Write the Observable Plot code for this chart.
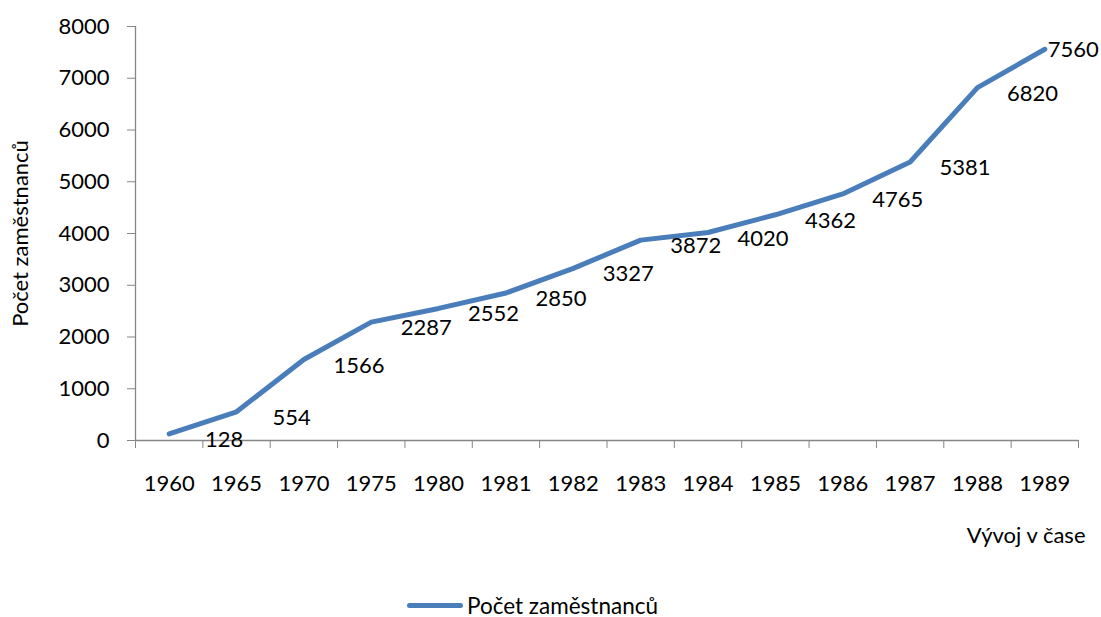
<!DOCTYPE html>
<html>
<head>
<meta charset="utf-8">
<script src="https://cdn.jsdelivr.net/npm/d3@7"></script>
<script src="https://cdn.jsdelivr.net/npm/@observablehq/plot@0.6"></script>
<style>
  html, body { margin: 0; padding: 0; background: #fff; }
  body { width: 1101px; height: 617px; position: relative; font-family: Lato, "Open Sans", sans-serif; overflow: hidden; }
  #legend { position: absolute; top: 592px; left: 407px; display: flex; align-items: center; font-size: 22.5px; color: #000; }
  #legend .sw { width: 56px; height: 5px; background: #4a7ebb; border-radius: 3px; margin-right: 4px; }
</style>
</head>
<body>
<div id="chart"></div>
<div id="legend"><span class="sw"></span><span>Počet zaměstnanců</span></div>
<script>
const years = ["1960","1965","1970","1975","1980","1981","1982","1983","1984","1985","1986","1987","1988","1989"];
const employees = [128, 554, 1566, 2287, 2552, 2850, 3327, 3872, 4020, 4362, 4765, 5381, 6820, 7560];
const yTicks = [0,1000,2000,3000,4000,5000,6000,7000,8000];
const seriesName = "Počet zaměstnanců";
const xTitle = "Vývoj v čase";

const data = years.map((y, i) => ({i, year: y, value: employees[i]}));
const idx = years.map((_, i) => i);
const bounds = d3.range(-0.5, years.length, 1);
const gray = "#868686";
const blue = "#4a7ebb";
const fs = 22;

const chart = Plot.plot({
  width: 1101,
  height: 560,
  marginLeft: 135,
  marginRight: 23,
  marginTop: 26,
  marginBottom: 120,
  style: {fontFamily: "Lato, 'Open Sans', sans-serif", fontSize: fs + "px", color: "#000", background: "#fff"},
  x: {type: "linear", domain: [-0.5, years.length - 0.5]},
  y: {domain: [0, 8000]},
  marks: [
    Plot.axisY(yTicks, {tickSize: 8, tickPadding: 18, stroke: gray, label: null, tickFormat: d => String(d), fill: "#000", fontSize: fs}),
    Plot.ruleX([-0.5], {stroke: gray, strokeWidth: 1.3}),
    Plot.ruleY([0], {stroke: gray, strokeWidth: 1.3}),
    Plot.axisX(bounds, {tickSize: 8, stroke: gray, tickFormat: () => "", label: null}),
    Plot.axisX(idx, {tickSize: 0, tickPadding: 35, tickFormat: i => years[i], label: null, fill: "#000", fontSize: fs}),
    Plot.text([seriesName], {frameAnchor: "left", textAnchor: "middle", dx: -115, rotate: -90, fontSize: fs, fill: "#000"}),
    Plot.text([xTitle], {x: years.length - 0.5, y: 0, textAnchor: "end", dx: 7, dy: 95, fontSize: fs, fill: "#000"}),
    Plot.line(data, {x: "i", y: "value", stroke: blue, strokeWidth: 5, strokeLinecap: "round", strokeLinejoin: "round"}),
    Plot.text(data.slice(0, -1), {x: "i", y: "value", text: d => String(d.value), dx: 55, dy: 6, fontSize: fs, fill: "#000"}),
    Plot.text(data.slice(-1), {x: "i", y: "value", text: d => String(d.value), dx: 3, dy: 1, textAnchor: "start", fontSize: fs, fill: "#000"})
  ]
});
document.getElementById("chart").appendChild(chart);
</script>
</body>
</html>
